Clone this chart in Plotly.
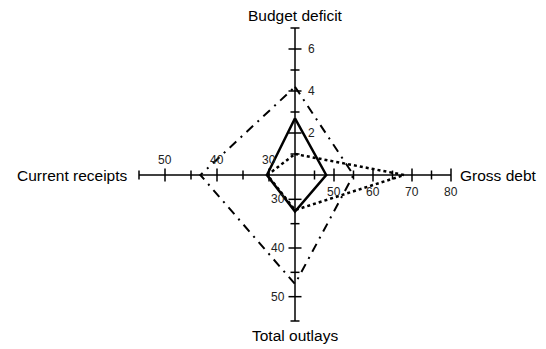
import plotly.graph_objects as go

# axes of the star chart: name, direction, min, max, labelled ticks, minor ticks
axis_names = ["Budget deficit", "Gross debt", "Total outlays", "Current receipts"]
axis_dirs = [(0, 1), (1, 0), (0, -1), (-1, 0)]
axis_min = [0, 40, 25, 25]
axis_max = [7, 80, 55, 55]
axis_len = [147, 156, 146, 156]
major_ticks = [[2, 4, 6], [50, 60, 70, 80], [30, 40, 50], [30, 40, 50]]
minor_ticks = [[1, 3, 5, 7], [45, 55, 65, 75], [35, 45, 55], [35, 45, 55]]

# series values in axis order
solid_vals = [2.7, 48, 32.5, 30.4]
dotted_vals = [1.0, 68, 32.2, 30.3]
dashdot_vals = [4.2, 55, 47.4, 43.2]


def to_xy(i, v):
    d = (v - axis_min[i]) / (axis_max[i] - axis_min[i]) * axis_len[i]
    return axis_dirs[i][0] * d, axis_dirs[i][1] * d


fig = go.Figure()

# axis lines and ticks
ax_x, ax_y = [], []
for i in range(4):
    x1, y1 = to_xy(i, axis_max[i])
    ax_x += [0, x1, None]
    ax_y += [0, y1, None]
    dx, dy = axis_dirs[i]
    for ticks, h in ((major_ticks[i], 6.5), (minor_ticks[i], 4.5)):
        for t in ticks:
            tx, ty = to_xy(i, t)
            ax_x += [tx - dy * h, tx + dy * h, None]
            ax_y += [ty - dx * h, ty + dx * h, None]
fig.add_trace(go.Scatter(x=ax_x, y=ax_y, mode="lines",
                         line=dict(color="black", width=1.5), hoverinfo="skip"))


def add_series(vals, dash, width):
    pts = [to_xy(i, v) for i, v in enumerate(vals)]
    pts.append(pts[0])
    fig.add_trace(go.Scatter(x=[p[0] for p in pts], y=[p[1] for p in pts],
                             mode="lines", line=dict(color="black", width=width, dash=dash)))


add_series(dashdot_vals, "9px,6px,2px,6px", 2)
add_series(dotted_vals, "3px,3px", 2.5)
add_series(solid_vals, "solid", 2.5)

# tick labels
tick_font = dict(family="Liberation Sans, Arial", size=12, color="#222")
offsets = [(11, 0, "left", "middle"), (0, -17, "center", "middle"),
           (-8, 0, "right", "middle"), (0, 15, "center", "middle")]
for i in range(4):
    ox, oy, xa, ya = offsets[i]
    for t in major_ticks[i]:
        tx, ty = to_xy(i, t)
        fig.add_annotation(x=tx + ox, y=ty + oy, text=str(t), showarrow=False,
                           xanchor=xa, yanchor=ya, font=tick_font)

# axis titles
title_font = dict(family="Liberation Sans, Arial", size=15.5, color="black")
title_pos = [(0, 160, "center"), (163, 0, "left"), (0, -160, "center"), (-165, 0, "right")]
for name, (x, y, xa) in zip(axis_names, title_pos):
    fig.add_annotation(x=x, y=y, text=name, showarrow=False, xanchor=xa,
                       yanchor="middle", font=title_font)

# the page body has an 8px margin, so the ranges are shifted to compensate
fig.update_layout(
    width=546, height=349,
    margin=dict(l=0, r=0, t=0, b=0),
    plot_bgcolor="white", paper_bgcolor="white",
    showlegend=False,
    xaxis=dict(range=[-287, 259], visible=False, fixedrange=True),
    yaxis=dict(range=[-182, 167], visible=False, fixedrange=True),
)

fig.write_html("out.html")
